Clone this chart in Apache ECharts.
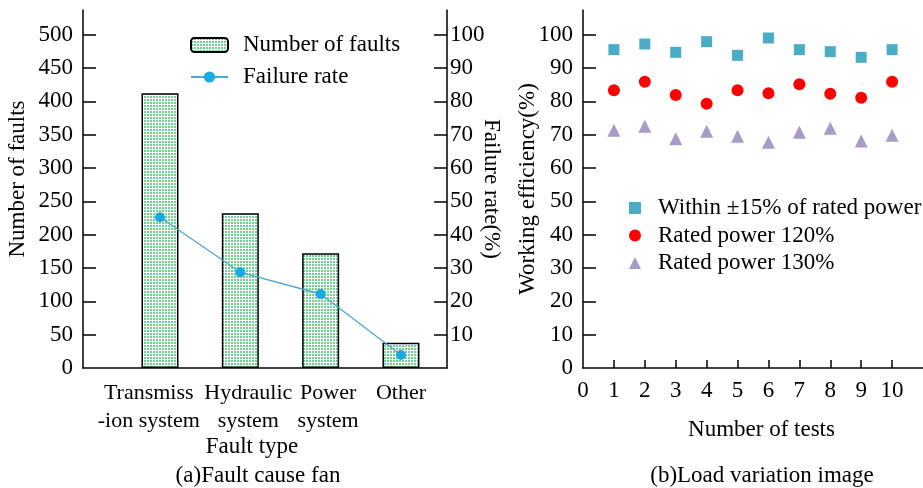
<!DOCTYPE html>
<html>
<head>
<meta charset="utf-8">
<script src="https://cdn.jsdelivr.net/npm/echarts@6/dist/echarts.min.js"></script>
<style>html,body{margin:0;padding:0;background:#fff}#c{width:923px;height:488px}</style>
</head>
<body>
<div id="c"></div>
<script>
// ---- data ----
const categories = ['Transmiss\n-ion system', 'Hydraulic\nsystem', 'Power\nsystem', 'Other'];
const faultCounts = [412, 232, 172, 38];
const failureRates = [45.2, 28.7, 22.2, 3.9];
const faultTicks = [0, 50, 100, 150, 200, 250, 300, 350, 400, 450, 500];
const rateTicks = [10, 20, 30, 40, 50, 60, 70, 80, 90, 100];
const tests = [1, 2, 3, 4, 5, 6, 7, 8, 9, 10];
const testTicks = [0, 1, 2, 3, 4, 5, 6, 7, 8, 9, 10];
const effTicks = [0, 10, 20, 30, 40, 50, 60, 70, 80, 90, 100];
const withinRated = [95.5, 97.2, 94.7, 97.9, 93.8, 99.0, 95.5, 94.9, 93.2, 95.5];
const rated120 = [83.3, 85.9, 81.9, 79.3, 83.3, 82.4, 85.1, 82.3, 81.1, 85.9];
const rated130 = [71.3, 72.5, 68.8, 71.0, 69.5, 67.7, 70.7, 71.9, 68.1, 69.8];

// ---- styles ----
const FONT = 'Liberation Serif, Times New Roman, serif';
const FS = 23;
const labelShift = [-0.14, 0.1, 0.093, 0];  // small horizontal shifts of category labels

const pat = document.createElement('canvas');
pat.width = 3; pat.height = 3;
const pc = pat.getContext('2d');
pc.fillStyle = '#ffffff'; pc.fillRect(0, 0, 3, 3);
pc.fillStyle = '#6fd28f'; pc.fillRect(0, 0, 2, 2);
const barFill = { image: pat, repeat: 'repeat' };

const chart = echarts.init(document.getElementById('c'), null, { renderer: 'canvas' });
const txt = { fontFamily: FONT, fontSize: FS, color: '#000' };

chart.setOption({
  animation: false,
  textStyle: { fontFamily: FONT },
  title: [
    { text: '(a)Fault cause fan', left: 258, top: 464, textAlign: 'center', padding: 0,
      textStyle: Object.assign({}, txt, { fontWeight: 'normal', lineHeight: 24 }) },
    { text: '(b)Load variation image', left: 762, top: 464, textAlign: 'center', padding: 0,
      textStyle: Object.assign({}, txt, { fontWeight: 'normal', lineHeight: 24 }) }
  ],
  legend: [
    { data: ['Number of faults', 'Failure rate'], orient: 'vertical', left: 190, top: 33, padding: 0,
      itemWidth: 37, itemHeight: 14, itemGap: 8,
      textStyle: Object.assign({}, txt, { lineHeight: 24, padding: [0, 0, 0, 10] }) },
    { data: ['Within \u00b115% of rated power', 'Rated power 120%', 'Rated power 130%'],
      orient: 'vertical', left: 629, top: 196, padding: 0, itemWidth: 12, itemHeight: 12, itemGap: 3.5,
      textStyle: Object.assign({}, txt, { lineHeight: 24, padding: [0, 0, 0, 12] }) }
  ],
  grid: [
    { left: 83, top: 10, width: 364, height: 358, containLabel: false },
    { left: 583, top: 10, width: 341, height: 358, containLabel: false }
  ],
  xAxis: [
    { type: 'value', gridIndex: 0, min: 0.0415, max: 4.573, splitLine: { show: false },
      axisLine: { lineStyle: { color: '#000', width: 1.5 } }, axisTick: { show: false },
      axisLabel: Object.assign({}, txt, { fontSize: 22, margin: 11, lineHeight: 28, hideOverlap: false,
        showMinLabel: true, showMaxLabel: true,
        customValues: categories.map((c, i) => i + 1 + labelShift[i]),
        formatter: v => categories[Math.round(v) - 1] || '' }),
      name: 'Fault type', nameLocation: 'middle', nameGap: 67, nameMoveOverlap: false,
      nameTextStyle: Object.assign({}, txt, { lineHeight: 24, padding: [0, 26, 0, 0] }) },
    { type: 'value', gridIndex: 1, min: 0, max: 11, interval: 1, splitLine: { show: false },
      axisLine: { lineStyle: { color: '#000', width: 1.5 } },
      axisTick: { inside: true, length: 8, lineStyle: { color: '#000', width: 1.5 },
        customValues: tests },
      axisLabel: Object.assign({}, txt, { margin: 11, customValues: testTicks }),
      name: 'Number of tests', nameLocation: 'middle', nameGap: 50, nameMoveOverlap: false,
      nameTextStyle: Object.assign({}, txt, { lineHeight: 24, padding: [0, 0, 0, 17] }) }
  ],
  yAxis: [
    { type: 'value', gridIndex: 0, min: 0, max: 537, splitLine: { show: false },
      axisLine: { show: true, lineStyle: { color: '#000', width: 1.5 } },
      axisTick: { show: true, inside: true, length: 13, lineStyle: { color: '#000', width: 1.5 },
        customValues: faultTicks.slice(1) },
      axisLabel: Object.assign({}, txt, { margin: 10, customValues: faultTicks }),
      name: 'Number of faults', nameLocation: 'middle', nameGap: 53, nameRotate: 90,
      nameMoveOverlap: false,
      nameTextStyle: Object.assign({}, txt, { lineHeight: 24, padding: [0, 0, 0, 20] }) },
    { type: 'value', gridIndex: 0, position: 'right', min: 0, max: 107.4, splitLine: { show: false },
      axisLine: { show: true, lineStyle: { color: '#000', width: 1.5 } },
      axisTick: { show: true, inside: true, length: 13, lineStyle: { color: '#000', width: 1.5 },
        customValues: rateTicks },
      axisLabel: Object.assign({}, txt, { margin: 3, customValues: rateTicks }),
      name: 'Failure rate(%)', nameLocation: 'middle', nameGap: 32, nameRotate: -90,
      nameMoveOverlap: false,
      nameTextStyle: Object.assign({}, txt, { lineHeight: 24 }) },
    { type: 'value', gridIndex: 1, min: 0, max: 107.4, splitLine: { show: false },
      axisLine: { show: true, lineStyle: { color: '#000', width: 1.5 } },
      axisTick: { show: true, inside: true, length: 13, lineStyle: { color: '#000', width: 1.5 },
        customValues: effTicks.slice(1) },
      axisLabel: Object.assign({}, txt, { margin: 10, customValues: effTicks }),
      name: 'Working efficiency(%)', nameLocation: 'middle', nameGap: 43, nameRotate: 90,
      nameMoveOverlap: false,
      nameTextStyle: Object.assign({}, txt, { lineHeight: 24 }) }
  ],
  series: [
    { name: 'Number of faults', type: 'bar', xAxisIndex: 0, yAxisIndex: 0, barWidth: 37,
      data: faultCounts.map((v, i) => [i + 1, v]),
      itemStyle: { color: barFill, borderColor: '#000', borderWidth: 1.5 } },
    { name: 'Failure rate', type: 'line', xAxisIndex: 0, yAxisIndex: 1,
      data: failureRates.map((v, i) => [i + 1, v]),
      symbol: 'circle', symbolSize: 10,
      lineStyle: { color: '#4aa8d0', width: 1.3 },
      itemStyle: { color: '#1aaae2' } },
    { name: 'Within \u00b115% of rated power', type: 'scatter', xAxisIndex: 1, yAxisIndex: 2,
      symbol: 'rect', symbolSize: 11, data: tests.map((t, i) => [t, withinRated[i]]),
      itemStyle: { color: '#4bacc6', opacity: 1 } },
    { name: 'Rated power 120%', type: 'scatter', xAxisIndex: 1, yAxisIndex: 2,
      symbol: 'circle', symbolSize: 12, data: tests.map((t, i) => [t, rated120[i]]),
      itemStyle: { color: '#ff0000', opacity: 1 } },
    { name: 'Rated power 130%', type: 'scatter', xAxisIndex: 1, yAxisIndex: 2,
      symbol: 'triangle', symbolSize: 13, data: tests.map((t, i) => [t, rated130[i]]),
      itemStyle: { color: '#a99bc6', opacity: 1 } }
  ]
});
</script>
</body>
</html>
